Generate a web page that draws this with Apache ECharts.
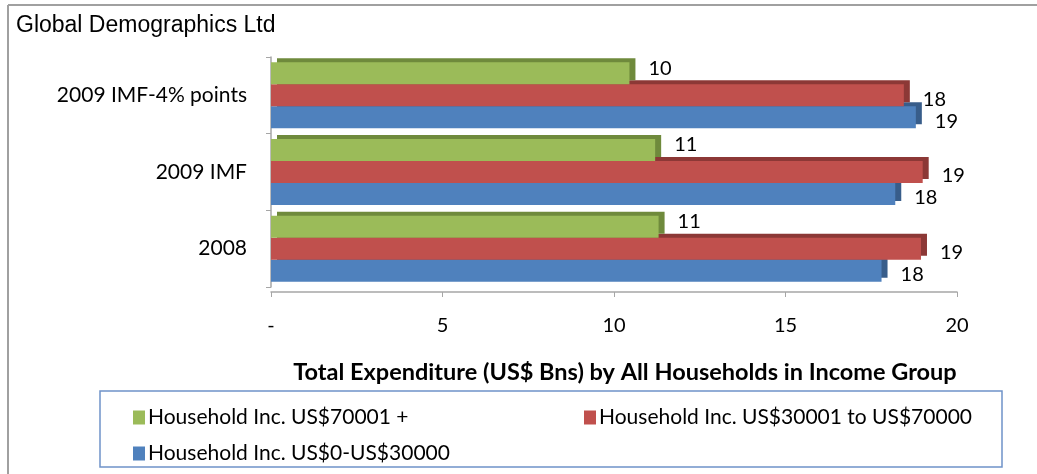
<!DOCTYPE html>
<html>
<head>
<meta charset="utf-8">
<script src="https://cdn.jsdelivr.net/npm/echarts@6/dist/echarts.min.js"></script>
<style>html,body{margin:0;padding:0;background:#fff}#c{width:1037px;height:474px}</style>
</head>
<body>
<div id="c"></div>
<script>
const categories = ['2008', '2009 IMF', '2009 IMF-4% points'];
const seriesNames = ['Household Inc. US$70001 +', 'Household Inc. US$30001 to US$70000', 'Household Inc. US$0-US$30000'];
const highIncome = [11.3, 11.2, 10.45];
const midIncome = [18.95, 19.0, 18.45];
const lowIncome = [17.8, 18.2, 18.8];
const xTicks = [0, 5, 10, 15, 20];

const FONT = 'Lato';
const chart = echarts.init(document.getElementById('c'));

function barSeries(name, data, color, shadow, offY, z) {
  return {
    name: name, type: 'bar', data: data, barGap: '0%', barCategoryGap: '14%', z: z,
    itemStyle: { color: color, shadowColor: shadow, shadowOffsetX: 6, shadowOffsetY: -4, shadowBlur: 0 },
    label: {
      show: true, position: 'right', distance: 19, offset: [0, offY],
      color: '#000', fontFamily: FONT, fontSize: 20,
      formatter: p => String(Math.round(p.value))
    }
  };
}

chart.setOption({
  animation: false,
  title: {
    text: 'Global Demographics Ltd', left: 11, top: 9,
    textStyle: { fontFamily: 'Liberation Sans', fontSize: 23, fontWeight: 'normal', color: '#000' }
  },
  grid: { left: 271, right: 80, top: 57, bottom: 187 },
  xAxis: {
    type: 'value', min: xTicks[0], max: xTicks[xTicks.length - 1], interval: 5, offset: 5,
    axisLine: { show: true, lineStyle: { color: '#a6a6a6', width: 1.5 } },
    axisTick: { show: true, length: 5, lineStyle: { color: '#a6a6a6' } },
    splitLine: { show: false },
    axisLabel: {
      margin: 24, color: '#000', fontFamily: FONT, fontSize: 20,
      formatter: v => (v === 0 ? '-' : String(v))
    },
    name: 'Total Expenditure (US$ Bns) by All Households in Income Group',
    nameLocation: 'middle', nameGap: 68,
    nameTextStyle: { fontFamily: FONT, fontSize: 23.5, fontWeight: 'bold', color: '#000', padding: [0, 0, 0, 22] }
  },
  yAxis: {
    type: 'category', data: categories,
    axisLine: { show: true, lineStyle: { color: '#a6a6a6', width: 1.5 } },
    axisTick: { show: true, length: 5, lineStyle: { color: '#a6a6a6' } },
    axisLabel: { margin: 24, color: '#000', fontFamily: FONT, fontSize: 21 }
  },
  legend: [
    { data: [seriesNames[0]], left: 128, top: 402 },
    { data: [seriesNames[1]], left: 579, top: 402 },
    { data: [seriesNames[2]], left: 128, top: 438 }
  ].map(l => Object.assign(l, {
    orient: 'horizontal', itemWidth: 12, itemHeight: 14, itemGap: 6, icon: 'rect',
    textStyle: { fontFamily: FONT, fontSize: 21, color: '#000', padding: [0, 0, 0, -2] }
  })),
  graphic: [
    { type: 'line', shape: { x1: 8, y1: 5, x2: 1037, y2: 5 }, style: { stroke: '#a0a0a0', lineWidth: 2 } },
    { type: 'line', shape: { x1: 8, y1: 5, x2: 8, y2: 474 }, style: { stroke: '#a0a0a0', lineWidth: 2 } },
    { type: 'rect', shape: { x: 100, y: 391, width: 902, height: 76 }, style: { fill: 'none', stroke: '#6f93c9', lineWidth: 1.5 } }
  ],
  series: [
    barSeries(seriesNames[0], highIncome, '#9bbb59', '#6f8a3c', -5, 4),
    barSeries(seriesNames[1], midIncome, '#c0504d', '#8c3836', 4, 3),
    barSeries(seriesNames[2], lowIncome, '#4f81bd', '#385d8a', 4, 2)
  ]
});
</script>
</body>
</html>
